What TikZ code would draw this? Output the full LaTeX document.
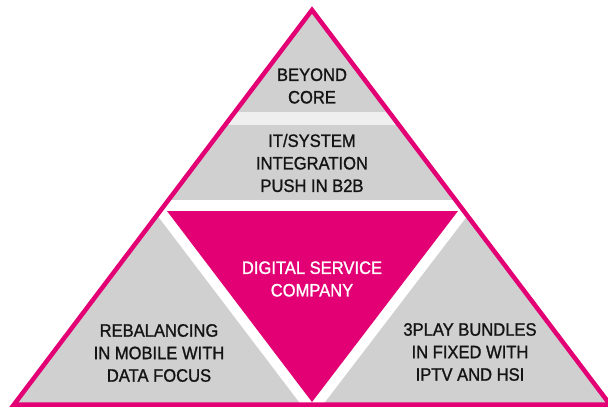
\documentclass[tikz,border=0pt]{standalone}
\usepackage{fontspec}
\setmainfont{Liberation Sans}[FakeStretch=0.92,FakeBold=1.2]
\definecolor{tmag}{HTML}{E20074}
\definecolor{tgrey}{HTML}{D0D0D0}
\definecolor{tlight}{HTML}{EFEFEF}
\definecolor{ttext}{HTML}{141414}
\tikzset{
  lbl/.style={align=center, inner sep=0pt, text=ttext, font=\fontsize{18}{22.5}\selectfont},
  wlbl/.style={lbl, text=white}
}
\begin{document}
\begin{tikzpicture}[x=1pt,y=-1pt]
\useasboundingbox (0,0) rectangle (608,407);
\coordinate (apex) at (312,10);
\coordinate (bl) at (14,404.5);
\coordinate (br) at (610,404.5);
\begin{scope}
  \clip (apex) -- (bl) -- (br) -- cycle;
  \fill[tgrey] (0,0) rectangle (620,410);
  \fill[tlight] (0,112) rectangle (620,125);
  \fill[white] (0,200) -- (620,200) -- (620,211) -- (471,211) -- (312,419) -- (154,211) -- (0,211) -- cycle;
  \fill[tmag] (167,211) -- (458,211) -- (312,402) -- cycle;
\end{scope}
\draw[tmag, line width=4.5pt, line join=miter] (apex) -- (bl) -- (br) -- cycle;
\node[lbl] (beyond) at (312,86) {BEYOND\\CORE};
\node[lbl] (itsys) at (312,163) {IT/SYSTEM\\INTEGRATION\\PUSH IN B2B};
\node[wlbl] (dsc) at (312,279) {DIGITAL SERVICE\\COMPANY};
\node[lbl] (rebal) at (159,353) {REBALANCING\\IN MOBILE WITH\\DATA FOCUS};
\node[lbl] (play) at (470,352) {3PLAY BUNDLES\\IN FIXED WITH\\IPTV AND HSI};
\end{tikzpicture}
\end{document}
